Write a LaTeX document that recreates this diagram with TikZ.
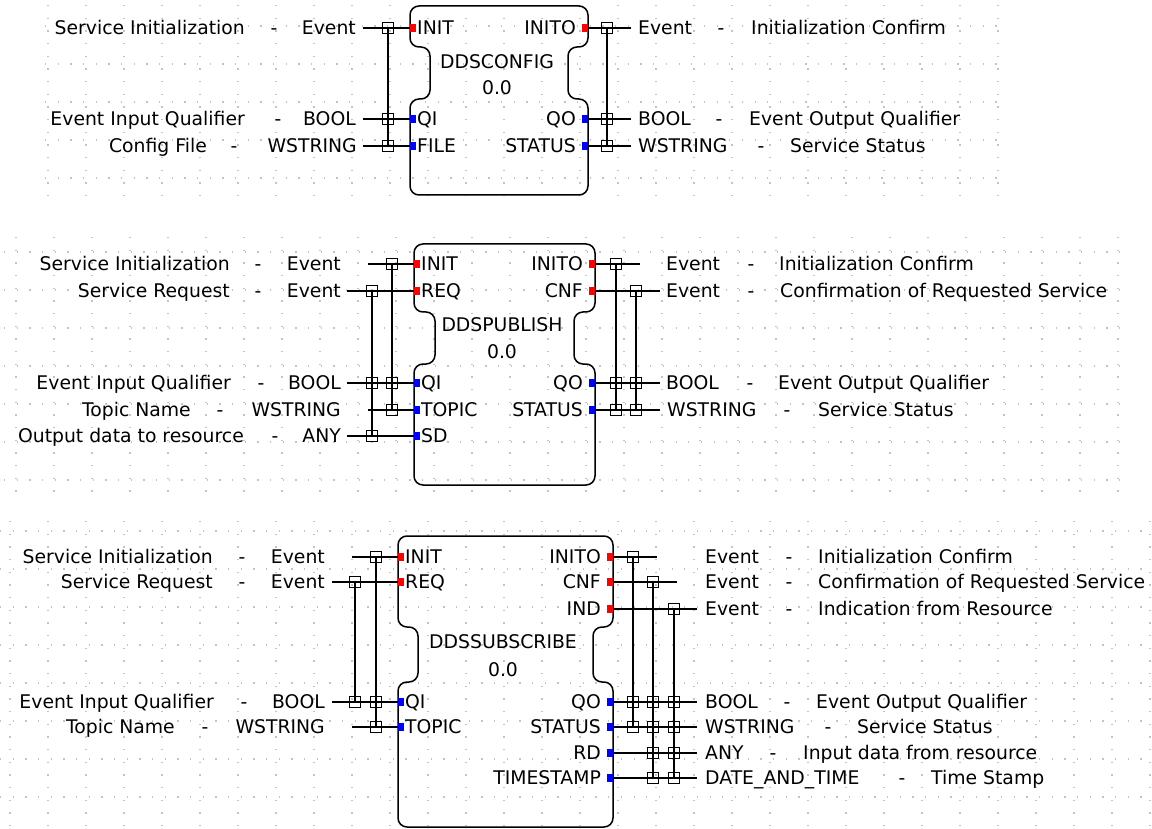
\documentclass[tikz,border=0pt]{standalone}
\usepackage{fontspec}
\setmainfont{DejaVu Sans}
\definecolor{evred}{RGB}{255,0,0}
\definecolor{datblue}{RGB}{0,0,255}
\definecolor{dotgray}{RGB}{195,195,195}

% function block outline: L R T B Na Nb d
\newcommand{\fbody}[7]{%
  \draw[fbline] (#1,#3+20) -- (#1,#3) -- (#2,#3) -- (#2,#5) -- (#2-#7,#5) -- (#2-#7,#6) -- (#2,#6) -- (#2,#4) -- (#1,#4) -- (#1,#6) -- (#1+#7,#6) -- (#1+#7,#5) -- (#1,#5) -- cycle;}
% input port: name, L, y, colour, text
\newcommand{\inport}[5]{%
  \coordinate (#1) at (#2,#3);
  \fill[#4] (#2,#3-4) rectangle (#2+6,#3+4);
  \node[txt, anchor=base west] (#1-n) at (#2+7,#3+6.9) {#5};}
% output port: name, R, y, colour, text
\newcommand{\outport}[5]{%
  \coordinate (#1) at (#2,#3);
  \fill[#4] (#2-6,#3-4) rectangle (#2,#3+4);
  \node[txt, anchor=base east] (#1-n) at (#2-12,#3+6.9) {#5};}
% wire from a free end to a port: port name, x of free end, y
\newcommand{\wire}[3]{%
  \coordinate (#1-w) at (#2,#3);
  \draw[wire] (#1-w) -- (#1);}
% WITH bus: name, x, y top, y bottom
\newcommand{\bus}[4]{%
  \coordinate (#1-a) at (#2,#3);
  \coordinate (#1-b) at (#2,#4);
  \draw[wire] (#1-a) -- (#1-b);}
% left label: name, y, comment, comment east x, dash x, type, type east x
\newcommand{\leftlbl}[7]{%
  \node[txt, anchor=base east] (#1c) at (#4,#2+6.9) {#3};
  \node[txt, anchor=base] (#1d) at (#5,#2+6.9) {-};
  \node[txt, anchor=base east] (#1t) at (#7,#2+6.9) {#6};}
% right label: name, y, type, type west x, dash x, comment, comment west x
\newcommand{\rightlbl}[7]{%
  \node[txt, anchor=base west] (#1t) at (#4,#2+6.9) {#3};
  \node[txt, anchor=base] (#1d) at (#5,#2+6.9) {-};
  \node[txt, anchor=base west] (#1c) at (#7,#2+6.9) {#6};}

\begin{document}
\begin{tikzpicture}[x=1pt,y=-1pt,
  wire/.style={line width=1.3pt, black},
  fbline/.style={line width=1.5pt, black, rounded corners=9pt},
  jbox/.style={draw=black, line width=1.2pt, rectangle, minimum size=11pt, inner sep=0pt},
  txt/.style={font=\fontsize{18.8}{20}\selectfont, inner sep=0pt, text=black},
  griddot/.style={dotgray, line width=1.3pt, dash pattern=on 1.3pt off 11.37pt}]

\useasboundingbox (0,0) rectangle (1152,829);
\fill[white] (0,0) rectangle (1152,829);

% ---------- background dot grids ----------
\foreach \k in {0,...,25} \draw[griddot] (48+38*\k,5) -- (48+38*\k,204);
\foreach \k in {0,...,4} \draw[griddot] (45,26+38*\k) -- (1000,26+38*\k);
\foreach \k in {0,...,29} \draw[griddot] (16+38*\k,237) -- (16+38*\k,492);
\foreach \k in {0,...,6} \draw[griddot] (4,252+38*\k) -- (1125,252+38*\k);
\foreach \k in {0,...,30} \draw[griddot] (10+38*\k,521) -- (10+38*\k,829);
\foreach \k in {0,...,7} \draw[griddot] (0,531+38*\k) -- (1152,531+38*\k);

% ================= DDSCONFIG =================
\fbody{410}{588}{6}{195}{47}{99}{20}
\node[txt] (b1name) at (497,62) {DDSCONFIG};
\node[txt] (b1ver) at (497,88) {0.0};
\inport{b1INIT}{410}{28}{evred}{INIT}
\inport{b1QI}{410}{119}{datblue}{QI}
\inport{b1FILE}{410}{146}{datblue}{FILE}
\outport{b1INITO}{588}{28}{evred}{INITO}
\outport{b1QO}{588}{119}{datblue}{QO}
\outport{b1STATUS}{588}{146}{datblue}{STATUS}
\wire{b1INIT}{363}{28}
\wire{b1QI}{363}{119}
\wire{b1FILE}{363}{146}
\wire{b1INITO}{631}{28}
\wire{b1QO}{631}{119}
\wire{b1STATUS}{631}{146}
\bus{b1bl}{388}{28}{146}
\bus{b1br}{607}{28}{146}
\foreach \yy [count=\i] in {28,119,146} {
  \node[jbox] (b1jl\i) at (388,\yy) {};
  \node[jbox] (b1jr\i) at (607,\yy) {};
}
\leftlbl{b1l1}{28}{Service Initialization}{245}{274}{Event}{356}
\leftlbl{b1l2}{119}{Event Input Qualifier}{245}{278}{BOOL}{356}
\leftlbl{b1l3}{146}{Config File}{207}{234}{WSTRING}{357}
\rightlbl{b1r1}{28}{Event}{638}{721}{Initialization Confirm}{751}
\rightlbl{b1r2}{119}{BOOL}{638}{719}{Event Output Qualifier}{749}
\rightlbl{b1r3}{146}{WSTRING}{638}{761}{Service Status}{790}

% ================= DDSPUBLISH =================
\fbody{414}{595}{244}{485}{312}{364}{21}
\node[txt] (b2name) at (502,325) {DDSPUBLISH};
\node[txt] (b2ver) at (502,352) {0.0};
\inport{b2INIT}{414}{264}{evred}{INIT}
\inport{b2REQ}{414}{291}{evred}{REQ}
\inport{b2QI}{414}{383}{datblue}{QI}
\inport{b2TOPIC}{414}{410}{datblue}{TOPIC}
\inport{b2SD}{414}{436}{datblue}{SD}
\outport{b2INITO}{595}{264}{evred}{INITO}
\outport{b2CNF}{595}{291}{evred}{CNF}
\outport{b2QO}{595}{383}{datblue}{QO}
\outport{b2STATUS}{595}{410}{datblue}{STATUS}
\wire{b2INIT}{368}{264}
\wire{b2REQ}{347}{291}
\wire{b2QI}{347}{383}
\wire{b2TOPIC}{368}{410}
\wire{b2SD}{347}{436}
\wire{b2INITO}{640}{264}
\wire{b2CNF}{660}{291}
\wire{b2QO}{660}{383}
\wire{b2STATUS}{660}{410}
\bus{b2bla}{392}{264}{410}
\bus{b2blb}{372}{291}{436}
\bus{b2bra}{616}{264}{410}
\bus{b2brb}{636}{291}{410}
\foreach \yy [count=\i] in {264,383,410} {
  \node[jbox] (b2jla\i) at (392,\yy) {};
  \node[jbox] (b2jra\i) at (616,\yy) {};
}
\foreach \yy [count=\i] in {291,383,436} \node[jbox] (b2jlb\i) at (372,\yy) {};
\foreach \yy [count=\i] in {291,383,410} \node[jbox] (b2jrb\i) at (636,\yy) {};
\leftlbl{b2l1}{264}{Service Initialization}{230}{258}{Event}{341}
\leftlbl{b2l2}{291}{Service Request}{230}{258}{Event}{341}
\leftlbl{b2l3}{383}{Event Input Qualifier}{231}{261}{BOOL}{341}
\leftlbl{b2l4}{410}{Topic Name}{191}{220}{WSTRING}{341}
\leftlbl{b2l5}{436}{Output data to resource}{244}{275}{ANY}{341}
\rightlbl{b2r1}{264}{Event}{666}{751}{Initialization Confirm}{779}
\rightlbl{b2r2}{291}{Event}{666}{751}{Confirmation of Requested Service}{780}
\rightlbl{b2r3}{383}{BOOL}{666}{750}{Event Output Qualifier}{778}
\rightlbl{b2r4}{410}{WSTRING}{667}{787}{Service Status}{818}

% ================= DDSSUBSCRIBE =================
\fbody{398}{613}{536}{827}{627}{682}{20}
\node[txt] (b3name) at (503,642) {DDSSUBSCRIBE};
\node[txt] (b3ver) at (503,670) {0.0};
\inport{b3INIT}{398}{557}{evred}{INIT}
\inport{b3REQ}{398}{582}{evred}{REQ}
\inport{b3QI}{398}{702}{datblue}{QI}
\inport{b3TOPIC}{398}{727}{datblue}{TOPIC}
\outport{b3INITO}{613}{557}{evred}{INITO}
\outport{b3CNF}{613}{582}{evred}{CNF}
\outport{b3IND}{613}{609}{evred}{IND}
\outport{b3QO}{613}{702}{datblue}{QO}
\outport{b3STATUS}{613}{727}{datblue}{STATUS}
\outport{b3RD}{613}{753}{datblue}{RD}
\outport{b3TS}{613}{778}{datblue}{TIMESTAMP}
\wire{b3INIT}{352}{557}
\wire{b3REQ}{332}{582}
\wire{b3QI}{332}{702}
\wire{b3TOPIC}{352}{727}
\wire{b3INITO}{657}{557}
\wire{b3CNF}{677}{582}
\wire{b3IND}{697}{609}
\wire{b3QO}{697}{702}
\wire{b3STATUS}{697}{727}
\wire{b3RD}{697}{753}
\wire{b3TS}{697}{778}
\bus{b3bla}{376}{557}{727}
\bus{b3blb}{355}{582}{702}
\bus{b3bra}{633}{557}{727}
\bus{b3brb}{653}{582}{778}
\bus{b3brc}{674}{609}{778}
\foreach \yy [count=\i] in {557,702,727} {
  \node[jbox] (b3jla\i) at (376,\yy) {};
  \node[jbox] (b3jra\i) at (633,\yy) {};
}
\foreach \yy [count=\i] in {582,702} \node[jbox] (b3jlb\i) at (355,\yy) {};
\foreach \yy [count=\i] in {582,702,727,753,778} \node[jbox] (b3jrb\i) at (653,\yy) {};
\foreach \yy [count=\i] in {609,702,727,753,778} \node[jbox] (b3jrc\i) at (674,\yy) {};
\leftlbl{b3l1}{557}{Service Initialization}{213}{242}{Event}{325}
\leftlbl{b3l2}{582}{Service Request}{213}{242}{Event}{325}
\leftlbl{b3l3}{702}{Event Input Qualifier}{214}{244}{BOOL}{325}
\leftlbl{b3l4}{727}{Topic Name}{175}{205}{WSTRING}{325}
\rightlbl{b3r1}{557}{Event}{705}{789}{Initialization Confirm}{818}
\rightlbl{b3r2}{582}{Event}{705}{789}{Confirmation of Requested Service}{818}
\rightlbl{b3r3}{609}{Event}{705}{789}{Indication from Resource}{818}
\rightlbl{b3r4}{702}{BOOL}{705}{787}{Event Output Qualifier}{816}
\rightlbl{b3r5}{727}{WSTRING}{705}{828}{Service Status}{857}
\rightlbl{b3r6}{753}{ANY}{705}{773}{Input data from resource}{803}
\rightlbl{b3r7}{778}{DATE\_AND\_TIME}{705}{902}{Time Stamp}{931}
\end{tikzpicture}
\end{document}
